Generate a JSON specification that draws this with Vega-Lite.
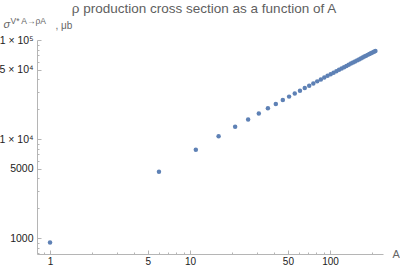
{
  "$schema": "https://vega.github.io/schema/vega-lite/v6.json",
  "width": 346,
  "height": 214,
  "autosize": {"type": "none"},
  "padding": {"left": 37, "top": 40, "right": 17, "bottom": 17},
  "background": "white",
  "title": {
    "text": "ρ production cross section as a function of A",
    "font": "Liberation Sans",
    "fontSize": 13.5,
    "fontWeight": "normal",
    "color": "#606060",
    "anchor": "middle",
    "frame": "group",
    "dx": -6,
    "dy": 3
  },
  "data": {
    "values": [
      {"A": 1, "sigma": 900},
      {"A": 6, "sigma": 4677},
      {"A": 11, "sigma": 7804},
      {"A": 16, "sigma": 10639},
      {"A": 21, "sigma": 13274},
      {"A": 26, "sigma": 15767},
      {"A": 31, "sigma": 18140},
      {"A": 36, "sigma": 20420},
      {"A": 41, "sigma": 22607},
      {"A": 46, "sigma": 24741},
      {"A": 51, "sigma": 26809},
      {"A": 56, "sigma": 28816},
      {"A": 61, "sigma": 30777},
      {"A": 66, "sigma": 32698},
      {"A": 71, "sigma": 34573},
      {"A": 76, "sigma": 36410},
      {"A": 81, "sigma": 38212},
      {"A": 86, "sigma": 39990},
      {"A": 91, "sigma": 41728},
      {"A": 96, "sigma": 43439},
      {"A": 101, "sigma": 45115},
      {"A": 106, "sigma": 46777},
      {"A": 111, "sigma": 48424},
      {"A": 116, "sigma": 50035},
      {"A": 121, "sigma": 51619},
      {"A": 126, "sigma": 53199},
      {"A": 131, "sigma": 54758},
      {"A": 136, "sigma": 56285},
      {"A": 141, "sigma": 57798},
      {"A": 146, "sigma": 59306},
      {"A": 151, "sigma": 60788},
      {"A": 156, "sigma": 62254},
      {"A": 161, "sigma": 63697},
      {"A": 166, "sigma": 65134},
      {"A": 171, "sigma": 66568},
      {"A": 176, "sigma": 67982},
      {"A": 181, "sigma": 69370},
      {"A": 186, "sigma": 70760},
      {"A": 191, "sigma": 72142},
      {"A": 196, "sigma": 73509},
      {"A": 201, "sigma": 74861},
      {"A": 206, "sigma": 76201},
      {"A": 211, "sigma": 77537}
    ]
  },
  "layer": [
    {
      "mark": {"type": "circle", "size": 20, "color": "#5e81b5", "opacity": 1},
      "encoding": {
        "x": {
          "field": "A",
          "type": "quantitative",
          "scale": {"type": "log", "domain": [0.807, 239], "nice": false},
          "axis": {
            "orient": "bottom",
            "grid": false,
            "values": [0.9, 1, 2, 3, 4, 5, 6, 7, 8, 9, 10, 20, 30, 40, 50, 60, 70, 80, 90, 100, 200],
            "labelExpr": "indexof([1,5,10,50,100], datum.value) >= 0 ? datum.label : ''",
            "format": "d",
            "tickSize": {"condition": {"test": "indexof([1,5,10,50,100], datum.value) >= 0", "value": -4}, "value": -2},
            "labelPadding": 6,
            "labelFont": "Liberation Sans",
            "labelFontSize": 10,
            "labelColor": "#222222",
            "labelFlush": false,
            "labelOverlap": false,
            "domainColor": "#b5b5b5",
            "tickColor": "#b5b5b5",
            "title": "A",
            "titleFont": "Liberation Sans",
            "titleFontSize": 11,
            "titleFontWeight": "normal",
            "titleColor": "#666666",
            "titleX": 355,
            "titleY": 0,
            "titleAlign": "left",
            "titleBaseline": "middle",
            "titleAngle": 0
          }
        },
        "y": {
          "field": "sigma",
          "type": "quantitative",
          "scale": {"type": "log", "domain": [690, 100000], "nice": false},
          "axis": {
            "orient": "left",
            "grid": false,
            "values": [700, 800, 900, 1000, 2000, 3000, 4000, 5000, 6000, 7000, 8000, 9000, 10000, 20000, 30000, 40000, 50000, 60000, 70000, 80000, 90000, 100000],
            "labelExpr": "datum.value == 1000 ? '1000' : datum.value == 5000 ? '5000' : datum.value == 10000 ? '1 × 10⁴' : datum.value == 50000 ? '5 × 10⁴' : datum.value == 100000 ? '1 × 10⁵' : ''",
            "tickSize": {"condition": {"test": "indexof([1000,5000,10000,50000,100000], datum.value) >= 0", "value": -4}, "value": -2},
            "labelPadding": 8,
            "labelFont": "Liberation Sans",
            "labelFontSize": 10.5,
            "labelColor": "#222222",
            "labelFlush": false,
            "labelOverlap": false,
            "domainColor": "#b5b5b5",
            "tickColor": "#b5b5b5",
            "title": "σ",
            "titleFont": "Liberation Sans",
            "titleFontSize": 11,
            "titleFontStyle": "italic",
            "titleFontWeight": "normal",
            "titleColor": "#666666",
            "titleX": -34,
            "titleY": -13,
            "titleAlign": "left",
            "titleBaseline": "alphabetic",
            "titleAngle": 0
          }
        }
      }
    },
    {
      "mark": {"type": "circle", "size": 20, "opacity": 0},
      "encoding": {
        "x": {
          "field": "A",
          "type": "quantitative",
          "axis": {
            "orient": "top",
            "grid": false,
            "domain": false,
            "ticks": false,
            "labels": false,
            "title": "V* A→ρA",
            "titleFont": "Liberation Sans",
            "titleFontSize": 8.5,
            "titleFontWeight": "normal",
            "titleColor": "#666666",
            "titleX": -27,
            "titleY": -17,
            "titleAlign": "left",
            "titleBaseline": "alphabetic",
            "titleAngle": 0
          }
        },
        "y": {
          "field": "sigma",
          "type": "quantitative",
          "axis": {
            "orient": "right",
            "grid": false,
            "domain": false,
            "ticks": false,
            "labels": false,
            "title": ", μb",
            "titleFont": "Liberation Sans",
            "titleFontSize": 10,
            "titleFontWeight": "normal",
            "titleColor": "#666666",
            "titleX": -328,
            "titleY": -12,
            "titleAlign": "left",
            "titleBaseline": "alphabetic",
            "titleAngle": 0
          }
        }
      }
    }
  ],
  "resolve": {"axis": {"x": "independent", "y": "independent"}},
  "config": {"view": {"stroke": null}}
}
